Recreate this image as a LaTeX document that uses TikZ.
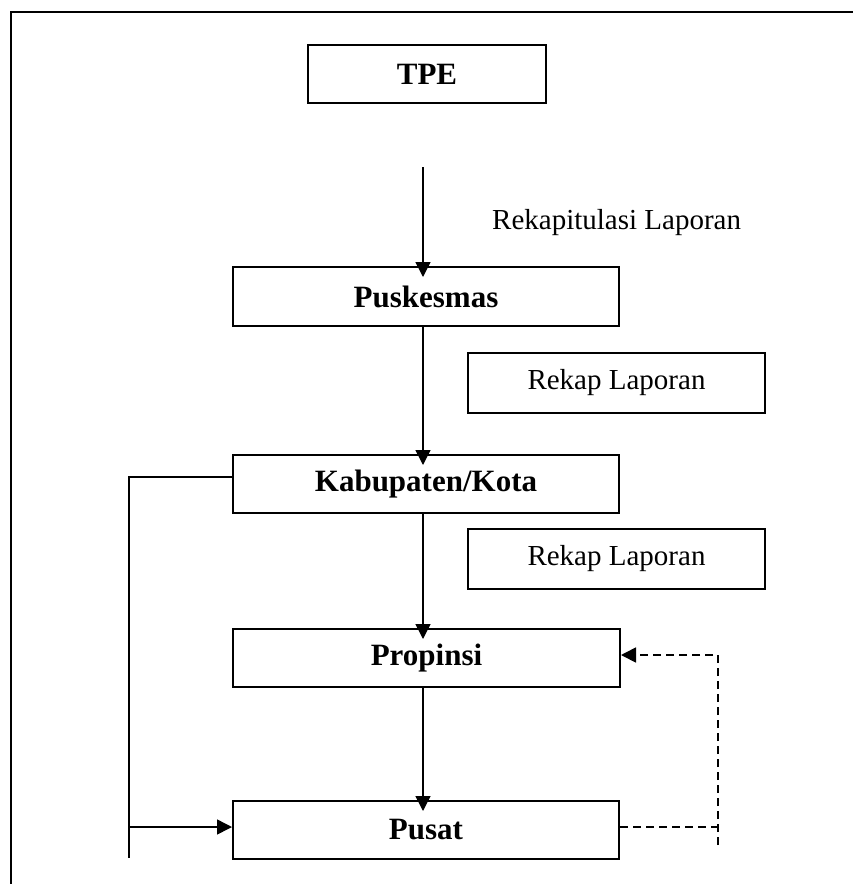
\documentclass[tikz,border=0pt]{standalone}
\usepackage{fontspec}
\setmainfont{Liberation Serif}
\usetikzlibrary{arrows.meta}
\begin{document}
\begin{tikzpicture}[x=1pt,y=-1pt,
  box/.style={draw, line width=2pt, rectangle, inner sep=0pt, font=\fontsize{31}{36}\selectfont\bfseries},
  rbox/.style={draw, line width=1.8pt, rectangle, inner sep=0pt, font=\fontsize{29}{34}\selectfont},
  conn/.style={line width=1.5pt},
  arr/.style={conn, -{Triangle[length=15pt,width=15pt]}},
  dsh/.style={line width=1.7pt, dash pattern=on 8pt off 5pt}]
\useasboundingbox (0,0) rectangle (853,884);
% frame
\draw[line width=2.3pt] (11,884) -- (11,12) -- (853,12);
% boxes
\node[box, minimum width=238pt, minimum height=58pt] (tpe) at (427,74) {TPE};
\node[box, minimum width=386pt, minimum height=59pt] (pusk) at (426,296.5) {Puskesmas};
\node[box, minimum width=386pt, minimum height=58pt] (kab) at (426,484) {Kabupaten/Kota};
\node[box, minimum width=387pt, minimum height=58pt] (prop) at (426.5,658) {Propinsi};
\node[box, minimum width=386pt, minimum height=58pt] (pusat) at (426,830) {Pusat};
\node[rbox, minimum width=297pt, minimum height=60pt] (rk1) at (616.5,383) {Rekap Laporan};
\node[rbox, minimum width=297pt, minimum height=60pt] (rk2) at (616.5,559) {Rekap Laporan};
\node[anchor=base west, inner sep=0pt, font=\fontsize{29}{34}\selectfont] (rl) at (492,229) {Rekapitulasi Laporan};
% main arrows
\coordinate (a0) at (423,167);
\draw[arr, shorten >=-11pt] (a0) -- (a0 |- pusk.north);
\draw[arr, shorten >=-11pt] (pusk.south -| a0) -- (kab.north -| a0);
\draw[arr, shorten >=-11pt] (kab.south -| a0) -- (prop.north -| a0);
\draw[arr, shorten >=-11pt] (prop.south -| a0) -- (pusat.north -| a0);
% left loop
\coordinate (L1) at (129,477);
\coordinate (L2) at (129,858);
\coordinate (L3) at (129,827);
\draw[conn] (kab.west |- L1) -- (L1) -- (L2);
\draw[arr] (L3) -- (pusat.west |- L3);
% dashed return
\coordinate (D1) at (718,827);
\coordinate (D2) at (718,845);
\coordinate (D3) at (718,655);
\draw[dsh] (pusat.east |- D1) -- (D1);
\draw[dsh, -{Triangle[length=15pt,width=15pt]}] (D2) -- (D3) -- (prop.east |- D3);
\end{tikzpicture}
\end{document}
